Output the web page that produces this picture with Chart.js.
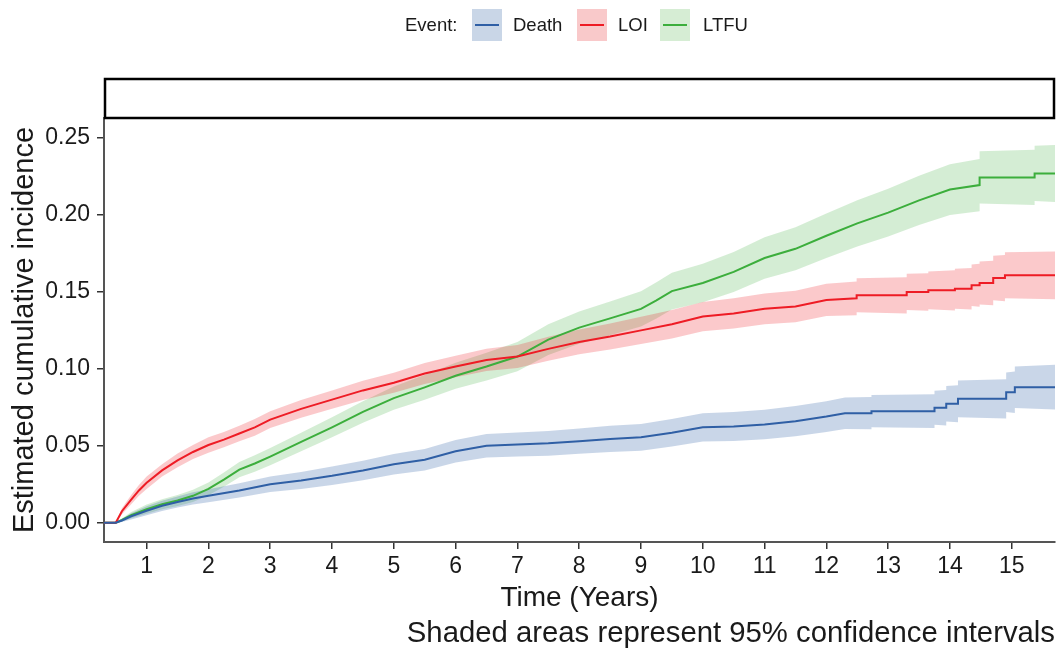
<!DOCTYPE html>
<html>
<head>
<meta charset="utf-8">
<script src="https://cdn.jsdelivr.net/npm/chart.js@4.4.1/dist/chart.umd.min.js"></script>
<style>
    body { margin: 0; background: #fff; }
    #wrap { position: relative; width: 1058px; height: 651px; font-family: "Liberation Sans", Arial, sans-serif; }
    #chart { position: absolute; left: 0; top: 0; }
    .lg { position: absolute; font-size: 18.5px; color: #1a1a1a; line-height: 32px; top: 9px; }
    .key { position: absolute; top: 9px; width: 30px; height: 32px; }
    .key span { position: absolute; left: 3px; right: 3px; top: 15px; height: 2px; }
</style>
</head>
<body>
<div id="wrap">
    <canvas id="chart" width="1058" height="651"></canvas>
    <div class="lg" style="left:405px">Event:</div>
    <div class="key" style="left:472px;background:#c9d6e7"><span style="background:#2f5fa5"></span></div>
    <div class="lg" style="left:513px">Death</div>
    <div class="key" style="left:577px;background:#f9c9ca"><span style="background:#ee1c25"></span></div>
    <div class="lg" style="left:618px">LOI</div>
    <div class="key" style="left:660px;background:#d6edd4"><span style="background:#3cae3c"></span></div>
    <div class="lg" style="left:703px">LTFU</div>
</div>
<script>
// axis ticks
const xTickValues = [1, 2, 3, 4, 5, 6, 7, 8, 9, 10, 11, 12, 13, 14, 15];
const xTickLabels = ['1', '2', '3', '4', '5', '6', '7', '8', '9', '10', '11', '12', '13', '14', '15'];
const yTickValues = [0, 0.05, 0.10, 0.15, 0.20, 0.25];
const yTickLabels = ['0.00', '0.05', '0.10', '0.15', '0.20', '0.25'];

// Death
const deathTime = [0.31, 0.5, 0.6, 0.75, 1.0, 1.25, 1.5, 1.75, 2.0, 2.5, 3.0, 3.5, 4.0, 4.5, 5.0, 5.5, 6.0, 6.5, 7.0, 7.5, 8.0, 8.5, 9.0, 9.5, 10.0, 10.5, 11.0, 11.5, 12.0, 12.3, 12.73, 12.73, 13.75, 13.75, 13.94, 13.94, 14.13, 14.13, 14.91, 14.91, 15.05, 15.05, 15.7];
const deathEst = [0, 0, 0.0015, 0.0042, 0.0078, 0.011, 0.0135, 0.0158, 0.0175, 0.021, 0.025, 0.0275, 0.0305, 0.034, 0.038, 0.041, 0.0465, 0.050, 0.0508, 0.0516, 0.053, 0.0545, 0.0555, 0.0585, 0.062, 0.0625, 0.0638, 0.066, 0.069, 0.0712, 0.0712, 0.0725, 0.0725, 0.0747, 0.0747, 0.0773, 0.0773, 0.0805, 0.0805, 0.0848, 0.0848, 0.0881, 0.0881];
const deathLower = [0, 0, 0.0005, 0.0022, 0.0048, 0.0077, 0.0099, 0.0118, 0.0133, 0.0164, 0.020, 0.022, 0.0245, 0.0277, 0.0314, 0.034, 0.0392, 0.0424, 0.043, 0.0436, 0.0448, 0.046, 0.0468, 0.0495, 0.0528, 0.0531, 0.0542, 0.0562, 0.059, 0.061, 0.0607, 0.062, 0.0615, 0.0637, 0.0632, 0.0658, 0.0653, 0.0685, 0.0677, 0.072, 0.0713, 0.0746, 0.0736];
const deathUpper = [0, 0, 0.0025, 0.0062, 0.0108, 0.0143, 0.0171, 0.0198, 0.0217, 0.0256, 0.030, 0.033, 0.0365, 0.0403, 0.0446, 0.048, 0.0538, 0.0576, 0.0586, 0.0596, 0.0612, 0.063, 0.0642, 0.0675, 0.0712, 0.0719, 0.0734, 0.0758, 0.079, 0.0814, 0.0817, 0.083, 0.0835, 0.0857, 0.0862, 0.0888, 0.0893, 0.0925, 0.0933, 0.0976, 0.0983, 0.1016, 0.1026];

// LOI
const loiTime = [0.31, 0.5, 0.6, 0.75, 0.875, 1.0, 1.25, 1.5, 1.75, 2.0, 2.25, 2.5, 2.75, 3.0, 3.5, 4.0, 4.5, 5.0, 5.5, 6.0, 6.5, 7.0, 7.5, 8.0, 8.5, 9.0, 9.5, 10.0, 10.5, 11.0, 11.5, 12.0, 12.49, 12.49, 13.3, 13.3, 13.65, 13.65, 14.08, 14.08, 14.35, 14.35, 14.48, 14.48, 14.7, 14.7, 14.89, 14.89, 15.7];
const loiEst = [0, 0, 0.0075, 0.015, 0.021, 0.026, 0.034, 0.0405, 0.046, 0.0505, 0.054, 0.058, 0.062, 0.067, 0.074, 0.080, 0.086, 0.091, 0.097, 0.1015, 0.1058, 0.108, 0.113, 0.1175, 0.121, 0.125, 0.129, 0.134, 0.136, 0.139, 0.1405, 0.1448, 0.1458, 0.1478, 0.1478, 0.150, 0.150, 0.151, 0.151, 0.152, 0.152, 0.1543, 0.1543, 0.1558, 0.1558, 0.159, 0.159, 0.1608, 0.1608];
const loiLower = [0, 0, 0.0055, 0.012, 0.0175, 0.022, 0.030, 0.036, 0.0415, 0.0455, 0.049, 0.053, 0.0565, 0.0615, 0.0682, 0.074, 0.0797, 0.0845, 0.0902, 0.0945, 0.0986, 0.1005, 0.1052, 0.1095, 0.1126, 0.1162, 0.1198, 0.1245, 0.1262, 0.129, 0.1303, 0.1343, 0.1348, 0.1368, 0.136, 0.1382, 0.1378, 0.1388, 0.138, 0.139, 0.1385, 0.1408, 0.1403, 0.1418, 0.1413, 0.1445, 0.144, 0.1458, 0.1453];
const loiUpper = [0, 0, 0.0095, 0.018, 0.0245, 0.030, 0.038, 0.045, 0.0505, 0.0555, 0.059, 0.063, 0.0675, 0.0725, 0.0798, 0.086, 0.0923, 0.0975, 0.1038, 0.1085, 0.113, 0.1155, 0.1208, 0.1255, 0.1294, 0.1338, 0.1382, 0.1435, 0.1458, 0.149, 0.1507, 0.1553, 0.1568, 0.1588, 0.1596, 0.1618, 0.1622, 0.1632, 0.164, 0.165, 0.1655, 0.1678, 0.1683, 0.1698, 0.1703, 0.1735, 0.174, 0.1758, 0.1763];

// LTFU
const ltfuTime = [0.31, 0.5, 0.6, 0.75, 1.0, 1.25, 1.5, 1.75, 2.0, 2.25, 2.5, 2.75, 3.0, 3.5, 4.0, 4.5, 5.0, 5.5, 6.0, 6.5, 7.0, 7.5, 8.0, 8.5, 9.0, 9.25, 9.5, 10.0, 10.5, 11.0, 11.5, 12.0, 12.5, 13.0, 13.5, 14.0, 14.48, 14.48, 15.37, 15.37, 15.7];
const ltfuEst = [0, 0, 0.0018, 0.005, 0.0088, 0.012, 0.0145, 0.0175, 0.022, 0.028, 0.0345, 0.0385, 0.043, 0.0525, 0.062, 0.072, 0.081, 0.088, 0.0955, 0.1015, 0.108, 0.119, 0.1268, 0.1328, 0.139, 0.1445, 0.1505, 0.1558, 0.163, 0.172, 0.178, 0.1865, 0.1945, 0.2015, 0.2095, 0.2165, 0.2194, 0.2244, 0.2244, 0.227, 0.227];
const ltfuLower = [0, 0, 0.0008, 0.003, 0.0058, 0.0087, 0.0109, 0.0135, 0.0178, 0.0234, 0.0295, 0.0332, 0.0374, 0.0465, 0.0555, 0.065, 0.0735, 0.080, 0.087, 0.0925, 0.0985, 0.109, 0.1163, 0.1218, 0.1275, 0.1328, 0.1385, 0.1433, 0.150, 0.1585, 0.164, 0.172, 0.1795, 0.186, 0.1935, 0.200, 0.2024, 0.2074, 0.2064, 0.209, 0.2085];
const ltfuUpper = [0, 0, 0.0028, 0.007, 0.0118, 0.0153, 0.0181, 0.0215, 0.0262, 0.0326, 0.0395, 0.0438, 0.0486, 0.0585, 0.0685, 0.079, 0.0885, 0.096, 0.104, 0.1105, 0.1175, 0.129, 0.1373, 0.1438, 0.1505, 0.1562, 0.1625, 0.1683, 0.176, 0.1855, 0.192, 0.201, 0.2095, 0.217, 0.2255, 0.233, 0.2364, 0.2414, 0.2424, 0.245, 0.2455];

const captionText = 'Shaded areas represent 95% confidence intervals';

const series = [
    { name: 'Death', time: deathTime, est: deathEst, lo: deathLower, hi: deathUpper },
    { name: 'LOI', time: loiTime, est: loiEst, lo: loiLower, hi: loiUpper },
    { name: 'LTFU', time: ltfuTime, est: ltfuEst, lo: ltfuLower, hi: ltfuUpper }
];

const colors = {
    Death: { line: '#2f5fa5', band: 'rgba(47, 95, 165, 0.26)' },
    LOI: { line: '#ee1c25', band: 'rgba(238, 28, 37, 0.24)' },
    LTFU: { line: '#3cae3c', band: 'rgba(60, 174, 60, 0.22)' }
};

function points(times, values) {
    return times.map((t, i) => ({ x: t, y: values[i] }));
}

let datasets = [];
series.forEach(s => {
    datasets.push({
        label: s.name + ' upper', data: points(s.time, s.hi),
        borderWidth: 0, pointRadius: 0, fill: '+1',
        backgroundColor: colors[s.name].band, order: 10
    });
    datasets.push({
        label: s.name + ' lower', data: points(s.time, s.lo),
        borderWidth: 0, pointRadius: 0, fill: false, order: 10
    });
});
series.forEach(s => {
    datasets.push({
        label: s.name, data: points(s.time, s.est),
        borderColor: colors[s.name].line, borderWidth: 2,
        pointRadius: 0, fill: false, tension: 0, order: 0
    });
});

// facet strip box above the panel + caption in the bottom right
const extras = {
    id: 'extras',
    afterDraw(chart) {
        let ctx = chart.ctx,
            area = chart.chartArea;
        ctx.save();
        ctx.strokeStyle = '#000';
        ctx.lineWidth = 2.5;
        ctx.strokeRect(area.left + 1, 79, area.right - area.left - 2, area.top - 79);
        ctx.fillStyle = '#1a1a1a';
        ctx.font = '29.3px "Liberation Sans", Arial, sans-serif';
        ctx.textAlign = 'right';
        ctx.textBaseline = 'alphabetic';
        ctx.fillText(captionText, 1055, 642);
        ctx.restore();
    }
};

Chart.defaults.font.family = '"Liberation Sans", Arial, sans-serif';
Chart.defaults.color = '#1a1a1a';

let chart = new Chart(document.getElementById('chart').getContext('2d'), {
    type: 'line',
    data: { datasets: datasets },
    options: {
        responsive: false,
        animation: false,
        layout: { padding: { top: 118, right: 3, left: 0, bottom: 36 } },
        plugins: { legend: { display: false }, tooltip: { enabled: false } },
        scales: {
            x: {
                type: 'linear', min: 0.31, max: 15.7,
                afterBuildTicks: s => { s.ticks = xTickValues.map(v => ({ value: v })); },
                afterFit: s => { s.height = 73; },
                ticks: {
                    autoSkip: false, maxRotation: 0, padding: 4,
                    font: { size: 23 },
                    callback: v => xTickLabels[xTickValues.indexOf(v)]
                },
                grid: { drawOnChartArea: false, drawTicks: true, tickLength: 7, color: '#333', lineWidth: 1.5 },
                border: { display: true, color: '#555', width: 2 },
                title: { display: true, text: 'Time (Years)', font: { size: 28 }, padding: { top: 0, bottom: 0 } }
            },
            y: {
                type: 'linear', min: -0.0125, max: 0.263,
                afterBuildTicks: s => { s.ticks = yTickValues.map(v => ({ value: v })); },
                afterFit: s => { s.width = 104; },
                ticks: {
                    padding: 7, font: { size: 23 },
                    callback: v => yTickLabels[yTickValues.indexOf(v)]
                },
                grid: { drawOnChartArea: false, drawTicks: true, tickLength: 7, color: '#333', lineWidth: 1.5 },
                border: { display: true, color: '#555', width: 2 },
                title: { display: true, text: 'Estimated cumulative incidence', font: { size: 29 }, padding: { top: 8, bottom: 0 } }
            }
        }
    },
    plugins: [extras]
});
</script>
</body>
</html>
